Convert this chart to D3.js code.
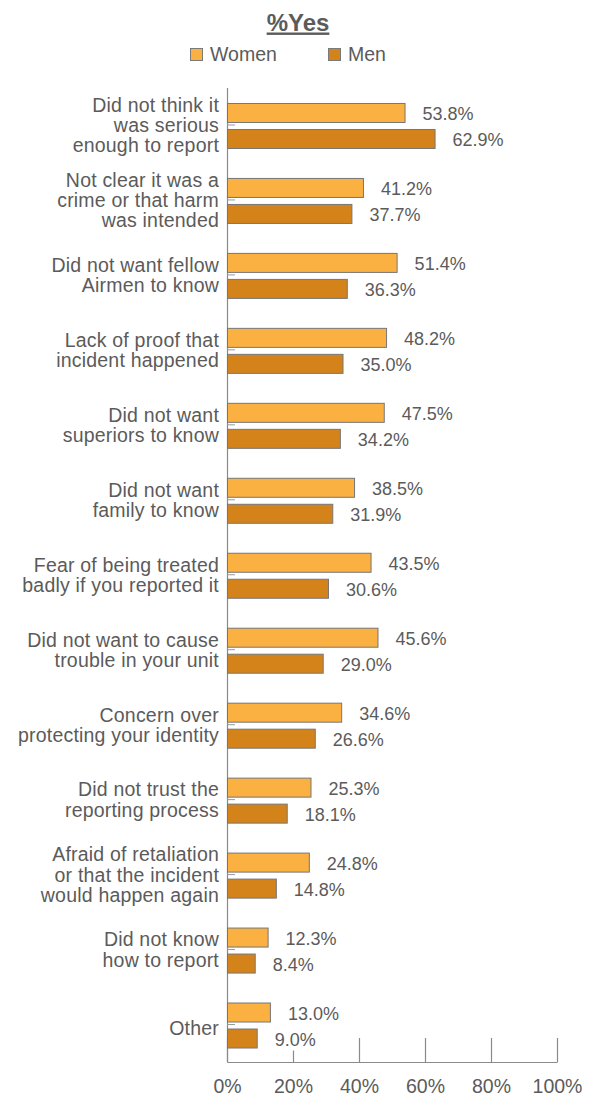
<!DOCTYPE html>
<html>
<head>
<meta charset="utf-8">
<script src="https://cdn.jsdelivr.net/npm/d3@7"></script>
<style>
  html, body { margin: 0; padding: 0; background: #fff; }
  svg { display: block; font-family: "Liberation Sans", Arial, Helvetica, sans-serif; }
</style>
</head>
<body>
<svg id="chart" width="592" height="1097"></svg>
<script>
// Reasons for not reporting, split into display lines
const categoryLines = [
  ["Did not think it", "was serious", "enough to report"],
  ["Not clear it was a", "crime or that harm", "was intended"],
  ["Did not want fellow", "Airmen to know"],
  ["Lack of proof that", "incident happened"],
  ["Did not want", "superiors to know"],
  ["Did not want", "family to know"],
  ["Fear of being treated", "badly if you reported it"],
  ["Did not want to cause", "trouble in your unit"],
  ["Concern over", "protecting your identity"],
  ["Did not trust the", "reporting process"],
  ["Afraid of retaliation", "or that the incident", "would happen again"],
  ["Did not know", "how to report"],
  ["Other"]
];
const categories = categoryLines.map(l => l.join(" "));

const women = [53.8, 41.2, 51.4, 48.2, 47.5, 38.5, 43.5, 45.6, 34.6, 25.3, 24.8, 12.3, 13.0];
const men   = [62.9, 37.7, 36.3, 35.0, 34.2, 31.9, 30.6, 29.0, 26.6, 18.1, 14.8, 8.4, 9.0];

const seriesNames = ["Women", "Men"];
const seriesColors = ["#fbb042", "#d4831b"];
const xTicks = [0, 20, 40, 60, 80, 100];

const svg = d3.select("#chart");
const textColor = "#5b5b5b";
const axisColor = "#8a8a8a";

const x = d3.scaleLinear().domain([0, 100]).range([227, 557]);
const y = d3.scaleBand().domain(categories).range([87.5, 1062]).padding(0);

// Title
svg.append("text")
  .attr("x", 298).attr("y", 30.5)
  .attr("text-anchor", "middle")
  .attr("font-size", 24).attr("font-weight", "bold")
  .attr("fill", textColor)
  .attr("text-decoration", "underline")
  .text("%Yes");

// Legend
const legendX = [190, 328];
const legend = svg.append("g");
seriesNames.forEach((name, i) => {
  legend.append("rect")
    .attr("x", legendX[i] + 0.5).attr("y", 48.5)
    .attr("width", 12).attr("height", 12)
    .attr("fill", seriesColors[i])
    .attr("stroke", "#7a7a7a").attr("stroke-width", 1);
  legend.append("text")
    .attr("x", legendX[i] + 20).attr("y", 61)
    .attr("font-size", 19.5)
    .attr("fill", textColor)
    .text(name);
});

// Bottom axis with short upward gridline ticks
const xAxis = svg.append("g")
  .attr("transform", `translate(0,${1062})`)
  .call(d3.axisBottom(x)
    .tickValues(xTicks)
    .tickFormat(d => d + "%")
    .tickSizeInner(-24)
    .tickSizeOuter(0)
    .tickPadding(17));
xAxis.select(".domain").attr("stroke", axisColor).attr("stroke-width", 1.2);
xAxis.selectAll(".tick line").attr("stroke", axisColor).attr("stroke-width", 1.2);
xAxis.selectAll(".tick text")
  .attr("font-size", 19.5)
  .attr("font-family", "Liberation Sans, Arial, Helvetica, sans-serif")
  .attr("fill", textColor);

// Left axis with small inward ticks at each category
const yAxis = svg.append("g")
  .attr("transform", `translate(${x(0)},0)`)
  .call(d3.axisLeft(y)
    .tickFormat("")
    .tickSizeInner(-8)
    .tickSizeOuter(0));
yAxis.select(".domain").attr("stroke", axisColor).attr("stroke-width", 1.2);
yAxis.selectAll(".tick line").attr("stroke", "#999").attr("stroke-width", 1);

// Category labels
const labelG = svg.append("g");
categoryLines.forEach((lines, i) => {
  const c = y(categories[i]) + y.bandwidth() / 2;
  const n = lines.length;
  const lineH = 20.3;
  const first = c + (n === 1 ? 10.5 : 7) - (n - 1) * lineH / 2;
  const t = labelG.append("text")
    .attr("text-anchor", "end")
    .attr("font-size", 19.5)
    .attr("letter-spacing", 0.2)
    .attr("fill", textColor);
  lines.forEach((ln, j) => {
    t.append("tspan").attr("x", 219).attr("y", first + j * lineH).text(ln);
  });
});

// Bars and value labels
const barH = 19;
const offsets = [-21.5, 4.5];
const seriesData = [women, men];
seriesData.forEach((vals, s) => {
  const g = svg.append("g");
  g.selectAll("rect.bar")
    .data(vals)
    .join("rect")
    .attr("class", "bar")
    .attr("x", x(0) + 0.5)
    .attr("y", (d, i) => y(categories[i]) + y.bandwidth() / 2 + offsets[s])
    .attr("width", d => x(d) - x(0))
    .attr("height", barH)
    .attr("fill", seriesColors[s])
    .attr("stroke", "#767676")
    .attr("stroke-width", 1);

  const lab = g.selectAll("g.val")
    .data(vals)
    .join("g")
    .attr("class", "val")
    .attr("transform", (d, i) =>
      `translate(${x(d) + 18},${y(categories[i]) + y.bandwidth() / 2 + offsets[s] + barH / 2 + 1})`);
  lab.append("rect")
    .attr("x", -3).attr("y", -11)
    .attr("width", d => (d < 10 ? 44 : 54)).attr("height", 22)
    .attr("fill", "#fff");
  lab.append("text")
    .attr("dy", "0.35em")
    .attr("font-size", 18)
    .attr("fill", textColor)
    .text(d => d.toFixed(1) + "%");
});
</script>
</body>
</html>
